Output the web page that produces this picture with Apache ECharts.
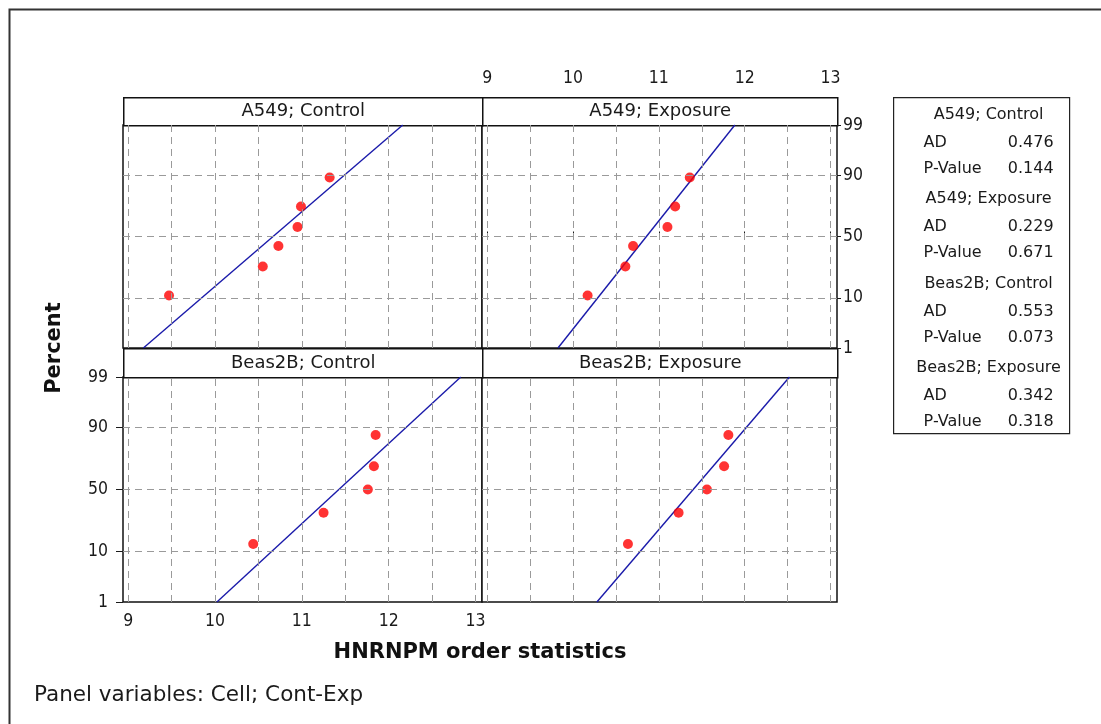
<!DOCTYPE html>
<html>
<head>
<meta charset="utf-8">
<title>HNRNPM probability plot</title>
<script src="https://cdn.jsdelivr.net/npm/echarts@6/dist/echarts.min.js"></script>
<style>
  html, body { margin: 0; padding: 0; background: #fff; }
  #main { width: 1101px; height: 724px; }
</style>
</head>
<body>
<div id="main"></div>
<script>
// ---- data ----
const panelNames = ['A549; Control', 'A549; Exposure', 'Beas2B; Control', 'Beas2B; Exposure'];
const a549Control = [9.47, 10.55, 10.73, 10.95, 10.99, 11.32];
const a549Exposure = [10.17, 10.61, 10.70, 11.10, 11.19, 11.36];
const beas2bControl = [10.44, 11.25, 11.76, 11.83, 11.85];
const beas2bExposure = [10.64, 11.23, 11.56, 11.76, 11.81];
// plotting positions (percent) for samples of six and of five
const pctSix = [10.9, 26.6, 42.2, 57.8, 73.4, 89.1];
const pctFive = [13.0, 31.5, 50.0, 68.5, 87.0];
const percentTicks = [1, 10, 50, 90, 99];
const xTicks = [9, 10, 11, 12, 13];
const xGridLines = [9, 9.5, 10, 10.5, 11, 11.5, 12, 12.5, 13];
const adValues = ['0.476', '0.229', '0.553', '0.342'];
const pValues = ['0.144', '0.671', '0.073', '0.318'];

const panelData = [a549Control, a549Exposure, beas2bControl, beas2bExposure];
const panelPct = [pctSix, pctSix, pctFive, pctFive];

// inverse standard normal CDF (Acklam) for the probability scale
function normInv(p) {
  const a = [-3.969683028665376e+01, 2.209460984245205e+02, -2.759285104469687e+02, 1.383577518672690e+02, -3.066479806614716e+01, 2.506628277459239e+00];
  const b = [-5.447609879822406e+01, 1.615858368580409e+02, -1.556989798598866e+02, 6.680131188771972e+01, -1.328068155288572e+01];
  const c = [-7.784894002430293e-03, -3.223964580411365e-01, -2.400758277161838e+00, -2.549732539343734e+00, 4.374664141464968e+00, 2.938163982698783e+00];
  const d = [7.784695709041462e-03, 3.224671290700398e-01, 2.445134137142996e+00, 3.754408661907416e+00];
  const pl = 0.02425, ph = 1 - pl;
  let q, r;
  if (p < pl) {
    q = Math.sqrt(-2 * Math.log(p));
    return (((((c[0]*q+c[1])*q+c[2])*q+c[3])*q+c[4])*q+c[5]) / ((((d[0]*q+d[1])*q+d[2])*q+d[3])*q+1);
  }
  if (p > ph) {
    q = Math.sqrt(-2 * Math.log(1 - p));
    return -(((((c[0]*q+c[1])*q+c[2])*q+c[3])*q+c[4])*q+c[5]) / ((((d[0]*q+d[1])*q+d[2])*q+d[3])*q+1);
  }
  q = p - 0.5; r = q * q;
  return (((((a[0]*r+a[1])*r+a[2])*r+a[3])*r+a[4])*r+a[5])*q / (((((b[0]*r+b[1])*r+b[2])*r+b[3])*r+b[4])*r+1);
}

const zTicks = percentTicks.map(p => normInv(p / 100));
const zMin = zTicks[0], zMax = zTicks[zTicks.length - 1];
const zGrid = zTicks.slice(1, -1);

function meanSd(arr) {
  const n = arr.length;
  const m = arr.reduce((s, v) => s + v, 0) / n;
  const v = arr.reduce((s, x) => s + (x - m) * (x - m), 0) / (n - 1);
  return [m, Math.sqrt(v)];
}

// ---- layout ----
const colX = [123, 482, 837];
const rows = [
  { head: 97, top: 125, bottom: 348 },
  { head: 348, top: 377, bottom: 602 }
];
const X_MIN = 8.94, X_MAX = 13.075;

const tickFont = '"DejaVu Sans Condensed", "DejaVu Sans", sans-serif';
const textFont = '"DejaVu Sans", sans-serif';
const ink = '#1a1a1a';

function pctLabel(v) {
  let best = 0;
  zTicks.forEach((z, k) => { if (Math.abs(z - v) < Math.abs(zTicks[best] - v)) best = k; });
  return String(percentTicks[best]);
}

const grids = [], xAxes = [], yAxes = [], series = [], graphics = [];

panelNames.forEach((name, i) => {
  const col = i % 2, row = Math.floor(i / 2);
  const r = rows[row];
  const left = colX[col], width = colX[col + 1] - colX[col];
  grids.push({
    left: left, top: r.top, width: width, height: r.bottom - r.top,
    show: true, borderColor: '#111', borderWidth: 1.5, backgroundColor: '#fff', z: 0
  });

  const topAxis = (i === 1), bottomAxis = (i === 2);
  xAxes.push({
    gridIndex: i, type: 'value', min: X_MIN, max: X_MAX,
    position: topAxis ? 'top' : 'bottom',
    offset: topAxis ? (r.top - r.head) : 0,
    axisLine: { show: false },
    splitLine: { show: false },
    axisTick: { show: topAxis || bottomAxis, customValues: xTicks, length: 5, lineStyle: { color: ink, width: 1 } },
    axisLabel: {
      show: topAxis || bottomAxis, customValues: xTicks, margin: 10,
      color: ink, fontSize: 17.5, fontFamily: tickFont
    }
  });

  const leftAxis = (i === 2), rightAxis = (i === 1);
  yAxes.push({
    gridIndex: i, type: 'value', min: zMin, max: zMax,
    position: rightAxis ? 'right' : 'left',
    axisLine: { show: false },
    splitLine: { show: false },
    axisTick: { show: leftAxis || rightAxis, customValues: zTicks, length: leftAxis ? 7 : 4, lineStyle: { color: ink, width: 1 } },
    axisLabel: {
      show: leftAxis || rightAxis, customValues: zTicks, margin: leftAxis ? 15 : 6,
      color: ink, fontSize: 17.5, fontFamily: tickFont, formatter: pctLabel
    }
  });

  const vals = panelData[i];
  const zs = panelPct[i].map(p => normInv(p / 100));

  // dashed reference grid
  series.push({
    type: 'scatter', xAxisIndex: i, yAxisIndex: i, data: [], z: 1, silent: true,
    markLine: {
      silent: true, symbol: 'none', animation: false,
      label: { show: false },
      lineStyle: { color: '#9a9a9a', type: [7, 5], width: 1 },
      data: xGridLines.map(v => ({ xAxis: v })).concat(zGrid.map(z => ({ yAxis: z })))
    }
  });

  // fitted normal line, from sample mean and standard deviation
  const [m, s] = meanSd(vals);
  series.push({
    type: 'line', xAxisIndex: i, yAxisIndex: i, z: 2, silent: true,
    showSymbol: false, symbol: 'none', animation: false,
    lineStyle: { color: '#1a1aaa', width: 1.4 },
    data: [[m + zMin * s, zMin], [m + zMax * s, zMax]]
  });

  // ordered observations
  series.push({
    type: 'scatter', xAxisIndex: i, yAxisIndex: i, z: 3, animation: false,
    symbol: 'circle', symbolSize: 10,
    itemStyle: { color: '#ff0000' },
    data: vals.map((v, k) => [v, zs[k]])
  });

  // panel header strip
  graphics.push({
    type: 'group', left: left, top: r.head, z: 10,
    children: [
      { type: 'rect', shape: { x: 0, y: 0, width: width, height: r.top - r.head },
        style: { fill: '#fff', stroke: '#111', lineWidth: 1.5 } },
      { type: 'text', x: width / 2, y: (r.top - r.head) / 2,
        style: { text: name, fill: ink, font: '18px ' + textFont, align: 'center', verticalAlign: 'middle' } }
    ]
  });
});

// outer frame
graphics.push({
  type: 'rect', left: 7, top: 7, z: -1, silent: true,
  shape: { x: 0, y: 0, width: 1110, height: 730 },
  style: { fill: 'none', stroke: '#333', lineWidth: 2 }
});

// axis titles and footnote
graphics.push({
  type: 'text', x: 480, y: 653, z: 10,
  style: { text: 'HNRNPM order statistics', fill: '#111', font: 'bold 21px ' + textFont, align: 'center', verticalAlign: 'middle' }
});
graphics.push({
  type: 'text', x: 55, y: 348, rotation: Math.PI / 2, z: 10,
  style: { text: 'Percent', fill: '#111', font: 'bold 21px ' + textFont, align: 'center', verticalAlign: 'middle' }
});
graphics.push({
  type: 'text', x: 34, y: 695, z: 10,
  style: { text: 'Panel variables: Cell; Cont-Exp', fill: ink, font: '21.5px ' + textFont, align: 'left', verticalAlign: 'middle' }
});

// goodness-of-fit table
const boxL = 893, boxT = 97, boxW = 176, boxH = 336;
const legendChildren = [
  { type: 'rect', shape: { x: 0, y: 0, width: boxW, height: boxH }, style: { fill: '#fff', stroke: '#222', lineWidth: 1.2 } }
];
const groupStep = 84.5;
panelNames.forEach((name, i) => {
  const y0 = 17 + i * groupStep;
  const f = '16px ' + textFont;
  legendChildren.push({ type: 'text', x: 95, y: y0, style: { text: name, fill: ink, font: f, align: 'center', verticalAlign: 'middle' } });
  legendChildren.push({ type: 'text', x: 30, y: y0 + 28, style: { text: 'AD', fill: ink, font: f, align: 'left', verticalAlign: 'middle' } });
  legendChildren.push({ type: 'text', x: 160, y: y0 + 28, style: { text: adValues[i], fill: ink, font: f, align: 'right', verticalAlign: 'middle' } });
  legendChildren.push({ type: 'text', x: 30, y: y0 + 54, style: { text: 'P-Value', fill: ink, font: f, align: 'left', verticalAlign: 'middle' } });
  legendChildren.push({ type: 'text', x: 160, y: y0 + 54, style: { text: pValues[i], fill: ink, font: f, align: 'right', verticalAlign: 'middle' } });
});
graphics.push({ type: 'group', left: boxL, top: boxT, z: 10, children: legendChildren });

const chart = echarts.init(document.getElementById('main'), null, { renderer: 'canvas' });
chart.setOption({
  animation: false,
  backgroundColor: '#fff',
  grid: grids,
  xAxis: xAxes,
  yAxis: yAxes,
  series: series,
  graphic: graphics
});
</script>
</body>
</html>
